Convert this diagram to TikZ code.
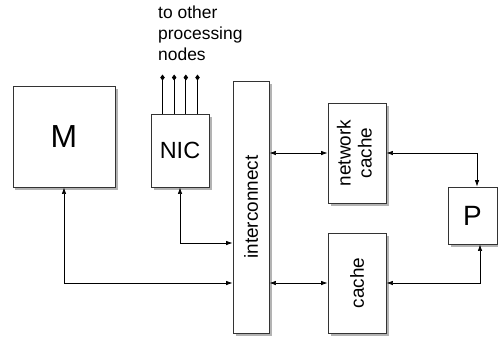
\documentclass[tikz,border=0pt]{standalone}
\usepackage{fontspec}
\usepackage{graphicx}
\setmainfont{Liberation Sans}
\usetikzlibrary{arrows.meta,shadows}

\begin{document}
\begin{tikzpicture}[x=1bp, y=-1bp,
        box/.style={draw=black!80, line width=0.9bp, fill=white, inner sep=0pt,
            drop shadow={shadow xshift=2.5bp, shadow yshift=-2.5bp, fill=black!50, opacity=0.6}},
        link/.style={line width=0.7bp, {Latex[length=6.5bp,width=4.5bp]}-{Latex[length=6.5bp,width=4.5bp]}},
        lbl/.style={font=\fontsize{19}{21}\selectfont}
    ]
    \useasboundingbox (0,0) rectangle (498,337);

    % Boxes
    \node[box, minimum width=102bp, minimum height=101bp, font=\fontsize{32}{36}\selectfont] (M) at (64,136.5) {M};
    \node[box, minimum width=58bp, minimum height=73bp, font=\fontsize{23.5}{26}\selectfont] (NIC) at (180,150.5) {NIC};
    \node[box, lbl, minimum width=36bp, minimum height=252bp] (ic) at (251,207) {\rotatebox{90}{interconnect}};
    \node[box, lbl, minimum width=58bp, minimum height=100bp] (netcache) at (357,153)
        {\rotatebox{90}{\begin{tabular}{@{}c@{}}network\\cache\end{tabular}}};
    \node[box, lbl, minimum width=58bp, minimum height=100bp] (cache) at (357,283) {\rotatebox{90}{cache}};
    \node[box, minimum width=49bp, minimum height=57bp, font=\fontsize{28}{32}\selectfont] (P) at (472.5,215.5) {P};

    % Outgoing wires
    \node[anchor=north west, inner sep=0pt, align=left, font=\fontsize{17.5}{21}\selectfont] (dest) at (158,6) {to other\\processing\\nodes};
    \foreach \dx in {-17.5,-5.8,5.8,17.5} {
        \draw[line width=0.7bp, -{Diamond[length=6bp,width=4.5bp]}] ([xshift=\dx bp]NIC.north) -- ++(0,-39);
    }

    % Links
    \draw[link] (M.south) |- (ic.west |- cache);
    \draw[link] (NIC.south) |- (ic.west |- 0,243);
    \draw[link] (ic.east |- netcache) -- (netcache.west);
    \draw[link] (ic.east |- cache) -- (cache.west);
    \draw[link] (netcache.east) -| ([xshift=4.5bp]P.north);
    \draw[link] (cache.east) -| ([xshift=7.5bp]P.south);

\end{tikzpicture}
\end{document}
